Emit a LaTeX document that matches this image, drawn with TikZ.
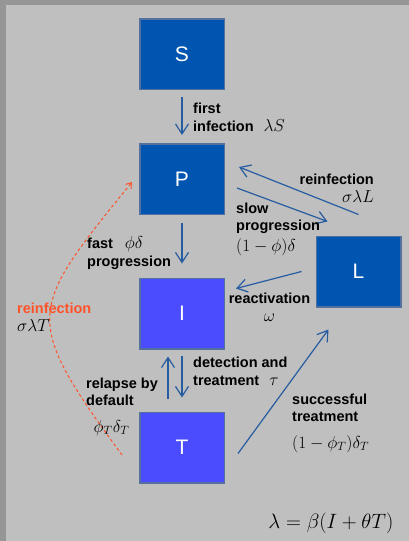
\documentclass[tikz,border=0pt]{standalone}
\usepackage{fontspec}
\setmainfont{Liberation Sans}
\usetikzlibrary{arrows.meta}
\definecolor{boxdark}{RGB}{0,85,176}
\definecolor{boxlight}{RGB}{76,76,255}
\definecolor{boxedge}{RGB}{84,112,158}
\definecolor{flowblue}{RGB}{38,92,160}
\definecolor{reinfred}{RGB}{255,82,40}
\definecolor{panelgray}{RGB}{191,191,191}
\definecolor{framegray}{RGB}{150,150,150}
\newcommand{\ratesym}[1]{{\fontsize{17}{17}\selectfont$#1$}}
\tikzset{
    compartment/.style = {
        rectangle, draw=boxedge, line width=1.5pt,
        fill=boxdark, text=white,
        minimum width=84.5pt,
        minimum height=70.5pt,
        inner sep=0pt,
        font=\fontsize{21}{24}\selectfont
    },
    treated/.style = {
        compartment, fill=boxlight
    },
    rate/.style = {
        inner sep=0pt,
        font=\fontsize{14.5}{17.5}\selectfont\bfseries
    },
    flow/.style = {
        -{Straight Barb[length=10pt,width=13pt]}, draw=flowblue, line width=1.2pt
    },
    reflow/.style = {
        -{Straight Barb[length=5pt,width=7pt]}, draw=reinfred, line width=1pt,
        dash pattern=on 3pt off 2.5pt
    }
}
\begin{document}
\begin{tikzpicture}[x=1pt, y=-1pt, node distance=125pt]

\useasboundingbox (0,0) rectangle (409,541);
\fill [framegray] (0,0) rectangle (409,541);
\fill [panelgray] (6,5) rectangle (409,541);

\node (S) [compartment] at (182,54) {S};
\node (P) [compartment, below of=S] {P};
\node (I) [treated, below of=P, yshift=-9.5pt] {I};
\node (T) [treated, below of=I, yshift=-9pt] {T};
\node (L) [compartment] at (358.5,271.5) {L};

\draw [flow, shorten <=7pt, shorten >=8pt] (S) -- (P);
\draw [flow, shorten <=8pt, shorten >=14pt] (P) -- (I);
\draw [flow, shorten <=6pt, shorten >=14pt] (I) -- (T);
\draw [flow, shorten <=13pt, shorten >=7pt] ([xshift=-14pt]T.north) -- ([xshift=-14pt]I.south);
\draw [flow] ([shift={(12,9)}]P.east) -- ([shift={(12,-14)}]L.north west);
\draw [flow] ([shift={(0,-21)}]L.north) -- ([shift={(14,-12)}]P.east);
\draw [flow] ([shift={(-14,0)}]L.west) -- ([shift={(11,11)}]I.north east);
\draw [flow] ([shift={(13,6)}]T.east) -- ([shift={(13,22)}]L.south west);
\draw [reflow] ([shift={(-17,7.5)}]T.west) .. controls (21,317) and (27.5,311) .. ([shift={(-7,3)}]P.west);

\node (lSP) [rate, anchor=west, align=left] at (193,117.5) {first\\infection\hspace{10pt}\ratesym{\lambda S}};
\node (lLP) [rate, anchor=east, align=right] at (374,188) {reinfection\\\ratesym{\sigma\lambda L}};
\node (lPL) [rate, anchor=west, align=left] at (236,229) {slow\\progression\\[3pt]\ratesym{(1-\phi)\delta}};
\node (lPI) [rate, anchor=west, align=left] at (87,253) {fast\hspace{12pt}\ratesym{\phi\delta}\\progression};
\node (lLI) [rate, align=center] at (269.5,307) {reactivation\\\ratesym{\omega}};
\node (lIT) [rate, anchor=west, align=left] at (193,371.5) {detection and\\treatment\hspace{10pt}\ratesym{\tau}};
\node (lTI) [rate, anchor=west, align=left] at (86,392) {relapse by\\default};
\node (rTI) [rate] at (111.5,428) {\ratesym{\phi_T\delta_T}};
\node (lTL) [rate, anchor=west, align=left] at (292,423) {successful\\treatment\\[9pt]\ratesym{(1-\phi_T)\delta_T}};
\node (lTP) [rate, text=reinfred, anchor=west, align=left] at (17,317) {reinfection\\\color{black}\ratesym{\sigma\lambda T}};
\node (force) [inner sep=0pt] at (331,523) {\fontsize{20}{20}\selectfont$\lambda=\beta(I+\theta T)$};

\end{tikzpicture}
\end{document}
